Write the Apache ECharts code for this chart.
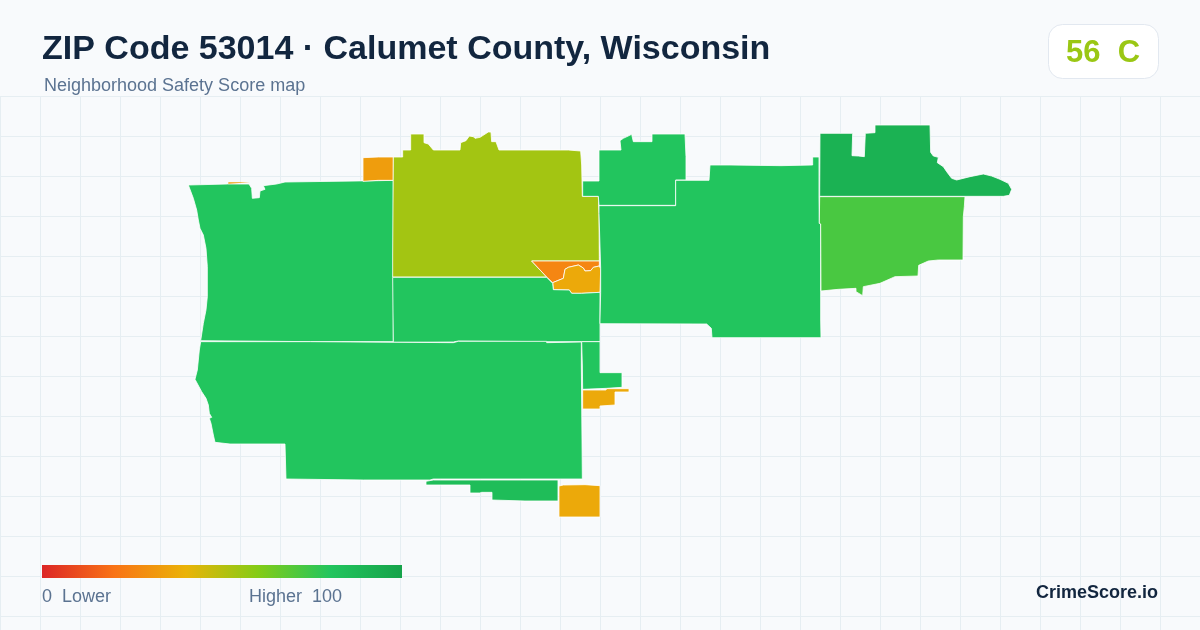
<!DOCTYPE html>
<html lang="en">
<head>
    <meta charset="utf-8">
    <script src="https://cdn.jsdelivr.net/npm/echarts@6/dist/echarts.min.js"></script>
    <style>
        html, body { margin: 0; padding: 0; background: #f8fafc; }
    </style>
</head>
<body>
<div id="main" style="width: 1200px;height:630px;"></div>
<script type="text/javascript">
    // scores per area of the ZIP
    var areaNames = ['west', 'sliver', 'corner', 'north', 'wedge', 'town', 'middle', 'south', 'stub', 'strip', 'lowEdge', 'lowSquare', 'upper', 'center', 'eastLow', 'eastTop'];
    var areaScores = [80, 34, 33, 54, 26, 37, 80, 80, 80, 37, 85, 37, 80, 80, 72, 91];
    var scaleColors = ['#dc2626', '#f97316', '#eab308', '#84cc16', '#22c55e', '#16a34a'];

    function trace(ox, oy, pts) {
        return pts.map(function (p) { return [ox + p[0] / 3, 630 - (oy + p[1] / 3)]; });
    }
    var outlines = {
        west: trace(180, 120, [[25,195],[143,192],[207,192],[215,205],[217,235],[238,233],[240,213],[255,208],[250,197],[290,192],[315,186],[595,182],[640,181],[640,665],[392,665],[62,662],[70,610],[78,570],[82,530],[82,440],[78,385],[70,345],[60,325],[55,300],[50,270],[40,235]]),
        sliver: trace(180, 120, [[145,187],[210,187],[210,190],[145,191]]),
        corner: trace(180, 120, [[549,113],[595,111],[640,111],[640,181],[595,181],[549,184]]),
        north: trace(180, 120, [[640,111],[668,111],[668,90],[692,90],[692,42],[732,42],[732,68],[745,72],[760,90],[840,90],[842,68],[858,62],[868,48],[880,50],[885,55],[900,52],[925,36],[933,36],[935,65],[948,65],[957,90],[1165,90],[1202,93],[1205,135],[1207,229],[1255,229],[1257,280],[1258,423],[1055,423],[1100,471],[638,471],[638,405]]),
        wedge: trace(180, 120, [[1055,423],[1258,423],[1258,438],[1240,442],[1232,452],[1215,453],[1210,444],[1195,435],[1165,442],[1155,448],[1150,475],[1118,488],[1100,471]]),
        town: trace(180, 120, [[1118,488],[1150,475],[1155,448],[1165,442],[1195,435],[1210,444],[1215,453],[1232,452],[1240,442],[1258,438],[1262,447],[1260,517],[1205,520],[1175,520],[1168,510],[1120,509]]),
        middle: trace(180, 120, [[638,472],[1100,472],[1118,490],[1120,509],[1168,510],[1175,520],[1205,520],[1260,517],[1260,665],[1205,665],[1100,665],[1100,663],[835,663],[820,666],[640,667]]),
        south: trace(180, 330, [[62,35],[392,35],[395,38],[820,38],[835,34],[1100,34],[1100,38],[1204,36],[1204,105],[1207,105],[1207,447],[760,447],[750,450],[550,450],[548,448],[318,447],[315,342],[150,342],[150,340],[105,337],[100,315],[93,280],[88,265],[95,262],[88,250],[85,225],[78,205],[65,185],[45,148],[52,120],[58,60]]),
        stub: trace(180, 330, [[1205,35],[1260,35],[1260,128],[1326,128],[1326,172],[1280,175],[1278,178],[1208,178],[1207,105],[1204,105]]),
        strip: trace(180, 330, [[1208,180],[1278,180],[1280,176],[1347,176],[1347,186],[1305,186],[1305,225],[1260,228],[1260,237],[1208,237]]),
        lowEdge: trace(180, 330, [[738,454],[760,450],[1134,450],[1134,513],[1035,513],[1035,510],[936,510],[936,487],[905,487],[900,489],[870,489],[870,465],[738,465]]),
        lowSquare: trace(180, 330, [[1137,468],[1150,465],[1215,464],[1218,467],[1260,467],[1260,561],[1137,561]]),
        upper: trace(580, 120, [[8,183],[57,183],[57,90],[123,90],[120,62],[130,55],[155,43],[160,65],[216,65],[216,42],[315,42],[318,110],[318,180],[287,180],[287,256],[57,256],[55,229],[8,229]]),
        center: trace(580, 120, [[57,257],[287,257],[287,181],[387,181],[390,135],[450,135],[452,137],[603,137],[605,135],[698,135],[698,111],[717,111],[717,228],[718,310],[722,312],[722,600],[723,653],[396,653],[394,625],[380,612],[60,611],[60,600],[62,517],[62,445],[57,280]]),
        eastLow: trace(580, 120, [[719,230],[1155,230],[1153,260],[1150,290],[1149,420],[1075,420],[1045,423],[1016,436],[1014,468],[945,470],[900,490],[850,500],[848,527],[828,515],[828,505],[775,508],[723,513],[722,312],[718,310]]),
        eastTop: trace(580, 120, [[720,40],[818,40],[816,107],[835,108],[853,110],[856,40],[885,38],[885,15],[1050,15],[1052,97],[1060,108],[1075,112],[1072,128],[1090,140],[1100,155],[1115,175],[1130,180],[1170,170],[1210,162],[1235,168],[1260,178],[1285,190],[1295,208],[1288,226],[1270,229],[719,229]])
    };

    var features = areaNames.map(function (name) {
        var ring = outlines[name].concat([outlines[name][0]]);
        return { type: 'Feature', properties: { name: name }, geometry: { type: 'Polygon', coordinates: [ring] } };
    });
    echarts.registerMap('zip53014', { type: 'FeatureCollection', features: features });

    var myChart = echarts.init(document.getElementById('main'));

    var textColor = '#5b7391';
    var inkColor = '#12263f';
    var gridColor = '#e6eef2';

    var option = {
        backgroundColor: '#f8fafc',
        animation: false,
        title: [
            { text: 'ZIP Code 53014 · Calumet County, Wisconsin', left: 42, top: 33, padding: 0,
              textStyle: { fontFamily: 'Liberation Sans', fontSize: 34, fontWeight: 'bold', color: inkColor } },
            { text: 'Neighborhood Safety Score map', left: 44, top: 77, padding: 0,
              textStyle: { fontFamily: 'Liberation Sans', fontSize: 18, fontWeight: 'normal', color: textColor } },
            { text: '0  Lower', left: 42, top: 588, padding: 0,
              textStyle: { fontFamily: 'Liberation Sans', fontSize: 18, fontWeight: 'normal', color: textColor } },
            { text: 'Higher  100', left: 249, top: 588, padding: 0,
              textStyle: { fontFamily: 'Liberation Sans', fontSize: 18, fontWeight: 'normal', color: textColor } },
            { text: 'CrimeScore.io', right: 42, top: 584, padding: 0,
              textStyle: { fontFamily: 'Liberation Sans', fontSize: 18, fontWeight: 'bold', color: inkColor } }
        ],
        // background grid, 40px squares
        grid: { left: 0, right: 0, top: 96, bottom: 0 },
        xAxis: { type: 'value', min: 0, max: 1200, interval: 40,
            axisLine: { show: false }, axisTick: { show: false }, axisLabel: { show: false },
            splitLine: { lineStyle: { color: gridColor, width: 1 } } },
        yAxis: { type: 'value', inverse: true, min: 0, max: 534, interval: 40,
            axisLine: { show: false }, axisTick: { show: false }, axisLabel: { show: false },
            splitLine: { lineStyle: { color: gridColor, width: 1 } } },
        visualMap: {
            type: 'continuous', show: false, min: 0, max: 100,
            inRange: { color: scaleColors }, seriesIndex: 0
        },
        graphic: [
            { type: 'rect', z: 100, shape: { x: 1048.5, y: 24.5, width: 110, height: 54, r: 14 },
              style: { fill: '#ffffff', stroke: '#e2e8f0', lineWidth: 1 } },
            { type: 'text', z: 101, x: 1103, y: 53,
              style: { text: '56  C', fill: '#9ac714', font: 'bold 31px "Liberation Sans"', align: 'center', verticalAlign: 'middle' } },
            // colour scale bar
            { type: 'rect', z: 100, shape: { x: 42, y: 565, width: 360, height: 13 },
              style: { fill: new echarts.graphic.LinearGradient(0, 0, 1, 0, scaleColors.map(function (c, i) {
                  return { offset: i / (scaleColors.length - 1), color: c };
              })) } }
        ],
        series: [{
            type: 'map',
            map: 'zip53014',
            left: 188.33, top: 125, width: 823.33, height: 392,
            aspectScale: 1,
            silent: true,
            label: { show: false },
            itemStyle: { borderColor: '#ffffff', borderWidth: 0.8 },
            emphasis: { disabled: true },
            select: { disabled: true },
            data: areaNames.map(function (name, i) {
                var item = { name: name, value: areaScores[i] };
                if (name === 'sliver') item.itemStyle = { borderWidth: 0 };
                return item;
            })
        }]
    };
    myChart.setOption(option);
</script>
</body>
</html>
